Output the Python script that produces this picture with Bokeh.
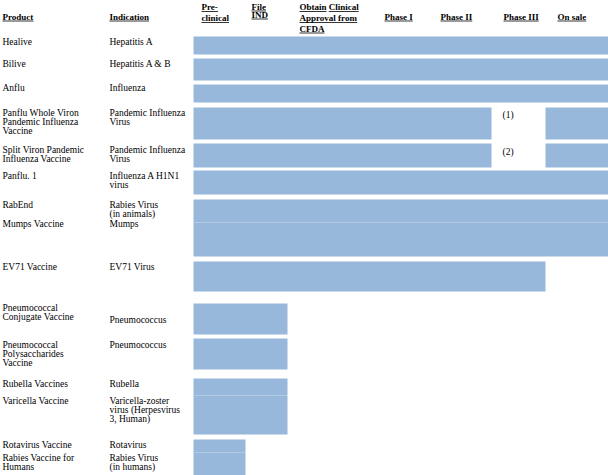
from bokeh.plotting import figure
from bokeh.models import Range1d
from bokeh.embed import file_html
from bokeh.resources import INLINE
from bokeh.core.properties import value

# ---------------- data ----------------
col_headers = ["Product", "Indication"]
stages = ["Pre-\nclinical", "File\nIND", "Obtain|Clinical\nApproval from\nCFDA",
          "Phase I", "Phase II", "Phase III", "On sale"]

products = ["Healive", "Bilive", "Anflu",
            "Panflu Whole Viron\nPandemic Influenza\nVaccine",
            "Split Viron Pandemic\nInfluenza Vaccine",
            "Panflu. 1", "RabEnd", "Mumps Vaccine", "EV71 Vaccine",
            "Pneumococcal\nConjugate Vaccine",
            "Pneumococcal\nPolysaccharides\nVaccine",
            "Rubella Vaccines", "Varicella Vaccine", "Rotavirus Vaccine",
            "Rabies Vaccine for\nHumans"]
indications = ["Hepatitis A", "Hepatitis A & B", "Influenza",
               "Pandemic Influenza\nVirus", "Pandemic Influenza\nVirus",
               "Influenza A H1N1\nvirus", "Rabies Virus\n(in animals)", "Mumps",
               "EV71 Virus", "Pneumococcus", "Pneumococcus", "Rubella",
               "Varicella-zoster\nvirus (Herpesvirus\n3, Human)", "Rotavirus",
               "Rabies Virus\n(in humans)"]
# number of stages reached (1..7)
progress = [7, 7, 7, 7, 7, 7, 7, 7, 6, 2, 2, 2, 2, 1, 1]
# stage index (0-based) left blank in the bar, or -1
skipped = [-1, -1, -1, 5, 5, -1, -1, -1, -1, -1, -1, -1, -1, -1, -1]
notes = ["", "", "", "(1)", "(2)", "", "", "", "", "", "", "", "", "", ""]

# ---------------- layout ----------------
stage_edges = [193, 245, 287, 372, 432, 491, 545, 608]
stage_text_x = [201, 251, 299, 384, 440, 503, 557]
prod_y = [41, 63, 87, 112, 149, 175, 204, 223, 266, 307, 344, 383, 400, 444, 457]
ind_y = [41, 63, 87, 112, 149, 175, 204, 223, 266, 319, 344, 383, 400, 444, 457]
bar_top = [36, 58, 84, 107, 143, 170, 199, 222, 261, 303, 338, 378, 395, 439, 452]
bar_bot = [54, 80, 102, 139, 167, 194, 222, 256, 291, 334, 369, 395, 434, 452, 480]
LINE = 9
FONT = "Liberation Serif"
FS = "9.5px"
HFS = 9.0
BAR = "#97b8da"

# Times bold widths (1/1000 em)
BW = {' ': 250, 'A': 722, 'C': 722, 'D': 722, 'F': 611, 'I': 389, 'N': 722,
      'O': 778, 'P': 611, 'a': 500, 'b': 556, 'c': 444, 'd': 556, 'e': 444,
      'f': 333, 'h': 556, 'i': 278, 'l': 278, 'm': 833, 'n': 556, 'o': 500,
      'p': 556, 'r': 444, 's': 389, 't': 333, 'u': 556, 'v': 500, '-': 333,
      'E': 667}


def bold_width(s, size=HFS):
    return sum(BW.get(ch, 500) for ch in s) * size / 1000.0


p = figure(width=608, height=475, x_range=Range1d(0, 608), y_range=Range1d(475, 0),
           output_backend="svg", toolbar_location=None, min_border=0)
p.axis.visible = False
p.grid.visible = False
p.outline_line_color = None
p.background_fill_color = "white"

# ---------------- bars ----------------
L, R, T, B = [], [], [], []
for i in range(len(products)):
    segs = []
    start = 0
    for s in range(progress[i]):
        if s == skipped[i]:
            if s > start:
                segs.append((start, s))
            start = s + 1
    if progress[i] > start:
        segs.append((start, progress[i]))
    for a, b in segs:
        L.append(stage_edges[a]); R.append(stage_edges[b])
        T.append(bar_top[i]); B.append(bar_bot[i])
p.quad(left=L, right=R, top=T, bottom=B, fill_color=BAR, line_color=None)

# faint cell separators inside merged blocks
sep_x0, sep_x1, sep_y = [], [], []
for i in range(1, len(products)):
    if bar_top[i] == bar_bot[i - 1]:
        sep_x0.append(stage_edges[0]); sep_y.append(bar_top[i])
        sep_x1.append(stage_edges[min(progress[i], progress[i - 1])])
p.segment(x0=sep_x0, x1=sep_x1, y0=sep_y, y1=sep_y, line_color="#b6cce4",
          line_width=1, line_dash="1 3")

# ---------------- body text ----------------
tx, ty, tt = [], [], []
for i in range(len(products)):
    for k, line in enumerate(products[i].split("\n")):
        tx.append(2); ty.append(prod_y[i] + k * LINE); tt.append(line)
    for k, line in enumerate(indications[i].split("\n")):
        tx.append(109); ty.append(ind_y[i] + k * LINE); tt.append(line)
    if notes[i]:
        tx.append(502); ty.append(prod_y[i] + 2); tt.append(notes[i])
p.text(x=tx, y=ty, text=tt, text_font=value(FONT), text_font_size=FS,
       text_baseline="middle", text_align="left", text_color="#000000")

# ---------------- header ----------------
hx, hy, ht = [], [], []
ux0, ux1, uy = [], [], []


def add_header(txt, x, yc):
    hx.append(x); hy.append(yc); ht.append(txt)
    ux0.append(x); ux1.append(x + bold_width(txt)); uy.append(yc + 4.5)


add_header(col_headers[0], 2, 16)
add_header(col_headers[1], 109, 16)
for j, st in enumerate(stages):
    lines = st.split("\n")
    if len(lines) == 1:
        ys = [16]
    elif len(lines) == 2:
        ys = [6.5, 17.5] if j == 0 else [6, 14]
    else:
        ys = [6.5, 17.5, 28]
    for k, line in enumerate(lines):
        x = stage_text_x[j]
        for part in line.split("|"):
            add_header(part, x, ys[k])
            x += bold_width(part) + bold_width(" ")

p.text(x=hx, y=hy, text=ht, text_font=value(FONT), text_font_size=f"{HFS}px",
       text_font_style="bold", text_baseline="middle", text_align="left",
       text_color="#000000")
p.segment(x0=ux0, x1=ux1, y0=uy, y1=uy, line_color="#000000", line_width=0.8)

open("out.html", "w").write(file_html(p, INLINE))
